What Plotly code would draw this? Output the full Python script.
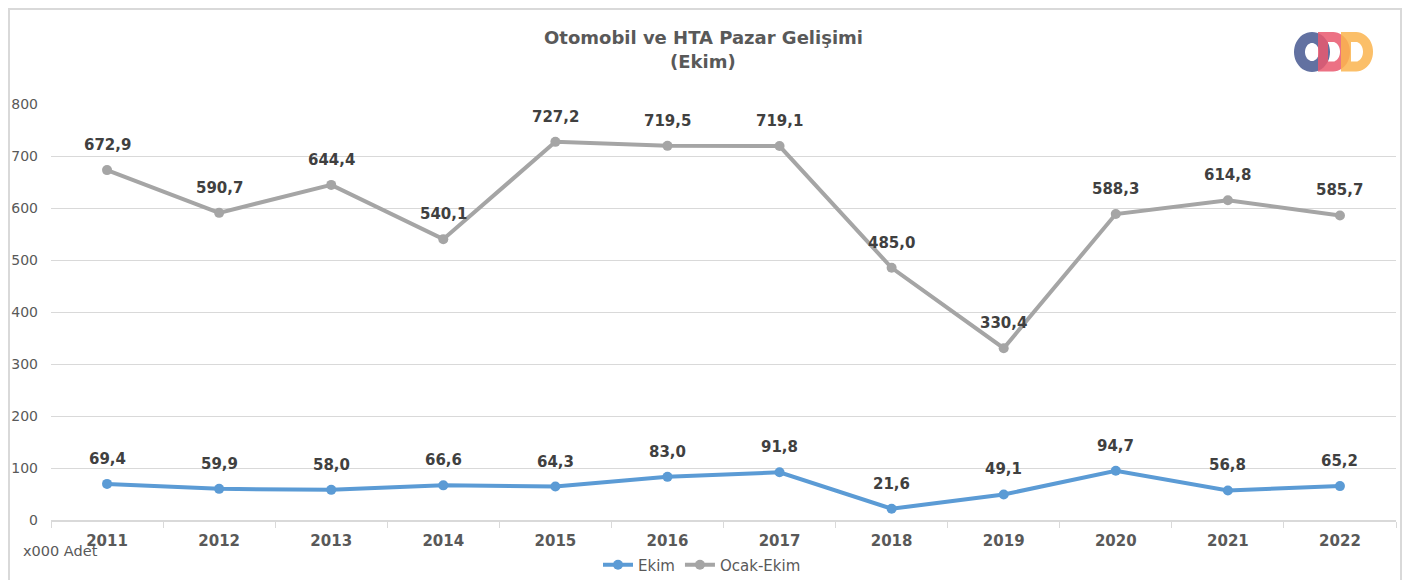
import math
import plotly.graph_objects as go

years = ["2011", "2012", "2013", "2014", "2015", "2016", "2017", "2018", "2019", "2020", "2021", "2022"]
ekim = [69.4, 59.9, 58.0, 66.6, 64.3, 83.0, 91.8, 21.6, 49.1, 94.7, 56.8, 65.2]
ocak_ekim = [672.9, 590.7, 644.4, 540.1, 727.2, 719.5, 719.1, 485.0, 330.4, 588.3, 614.8, 585.7]
y_ticks = [0, 100, 200, 300, 400, 500, 600, 700, 800]

OFF = 8  # page body margin
W, H = 1404, 572
ML = 51 - OFF
MT = 104 - OFF
MR = W - (1396 - OFF)
MB = H - (520 - OFF)
PW, PH = W - ML - MR, H - MT - MB
FONT = "DejaVu Sans"

def px(x):
    """screen x (reference pixels) -> paper"""
    return (x - OFF - ML) / PW

def py(y):
    """screen y (reference pixels) -> paper"""
    return (H - MB - (y - OFF)) / PH

def fmt(v):
    return f"{v:.1f}".replace(".", ",")

fig = go.Figure()
fig.add_trace(go.Scatter(x=years, y=ekim, name="Ekim", mode="lines+markers",
                         line=dict(color="#5B9BD5", width=4),
                         marker=dict(color="#5B9BD5", size=10)))
fig.add_trace(go.Scatter(x=years, y=ocak_ekim, name="Ocak-Ekim", mode="lines+markers",
                         line=dict(color="#A5A5A5", width=4),
                         marker=dict(color="#A5A5A5", size=10)))

for series in (ekim, ocak_ekim):
    for i, v in enumerate(series):
        fig.add_annotation(x=i, y=v, text=fmt(v), showarrow=False, yshift=25,
                           xanchor="center", yanchor="middle",
                           font=dict(family=FONT, size=15, color="#404040", weight="bold"))

fig.add_annotation(xref="paper", yref="paper", x=px(21), y=py(551), xanchor="left", yanchor="middle",
                   text="x000 Adet", showarrow=False,
                   font=dict(family=FONT, size=14.5, color="#595959"))

fig.add_annotation(xref="paper", yref="paper", x=px(703), y=py(37), xanchor="center", yanchor="middle",
                   text="Otomobil ve HTA Pazar Gelişimi", showarrow=False,
                   font=dict(family=FONT, size=18, color="#595959", weight="bold"))
fig.add_annotation(xref="paper", yref="paper", x=px(703), y=py(62), xanchor="center", yanchor="middle",
                   text="(Ekim)", showarrow=False,
                   font=dict(family=FONT, size=18, color="#595959", weight="bold"))

shapes = []
shapes.append(dict(type="rect", xref="paper", yref="paper", x0=px(OFF + 1), x1=px(1401),
                   y0=py(620), y1=py(OFF + 1), line=dict(color="#D9D9D9", width=2)))

def poly(points):
    return "M " + " L ".join(f"{px(a):.5f},{py(b):.5f}" for a, b in points)

cx, cy, rx, ry = 1312, 52, 12.5, 14.5
ring = [(cx + rx * math.cos(t / 48 * 2 * math.pi), cy + ry * math.sin(t / 48 * 2 * math.pi)) for t in range(49)]
shapes.append(dict(type="path", xref="paper", yref="paper", path=poly(ring) + " Z",
                   line=dict(color="#55669A", width=11), opacity=0.92))

def dshape(x0, x1, yt, yb, rxx):
    ryy = (yb - yt) / 2
    yc = (yt + yb) / 2
    pts = [(x0, yb), (x0, yt), (x1, yt)]
    for k in range(1, 24):
        a = -math.pi / 2 + math.pi * k / 24
        pts.append((x1 + rxx * math.cos(a), yc + ryy * math.sin(a)))
    pts.append((x1, yb))
    return poly(pts) + " Z"

shapes.append(dict(type="path", xref="paper", yref="paper", path=dshape(1323, 1333, 37, 66.5, 12),
                   line=dict(color="#E9596F", width=10), opacity=0.85))
shapes.append(dict(type="path", xref="paper", yref="paper", path=dshape(1346, 1356, 37, 66.5, 12),
                   line=dict(color="#FBB54F", width=10), opacity=0.85))

fig.update_layout(
    width=W, height=H,
    margin=dict(l=ML, r=MR, t=MT, b=MB, autoexpand=False),
    paper_bgcolor="white", plot_bgcolor="white",
    font=dict(family=FONT, color="#595959"),
    showlegend=True,
    legend=dict(orientation="h", x=px(702), xanchor="center", y=py(565), yanchor="middle",
                font=dict(family=FONT, size=15, color="#595959"),
                bgcolor="rgba(0,0,0,0)"),
    shapes=shapes,
    xaxis=dict(type="category", categoryarray=years, range=[-0.5, len(years) - 0.5],
               showgrid=False, showline=True, linecolor="#D9D9D9", linewidth=1.5,
               ticks="outside", tickson="boundaries", ticklen=6, tickcolor="#D9D9D9",
               tickfont=dict(family=FONT, size=15, color="#595959", weight="bold"),
               ticklabelstandoff=6, fixedrange=True, automargin=False),
    yaxis=dict(range=[0, 800], tickvals=y_ticks, showgrid=True, gridcolor="#D9D9D9",
               gridwidth=1, zeroline=False, showline=False,
               tickfont=dict(family=FONT, size=14, color="#595959"),
               ticklabelstandoff=12, fixedrange=True, automargin=False),
)

fig.write_html("out.html")
